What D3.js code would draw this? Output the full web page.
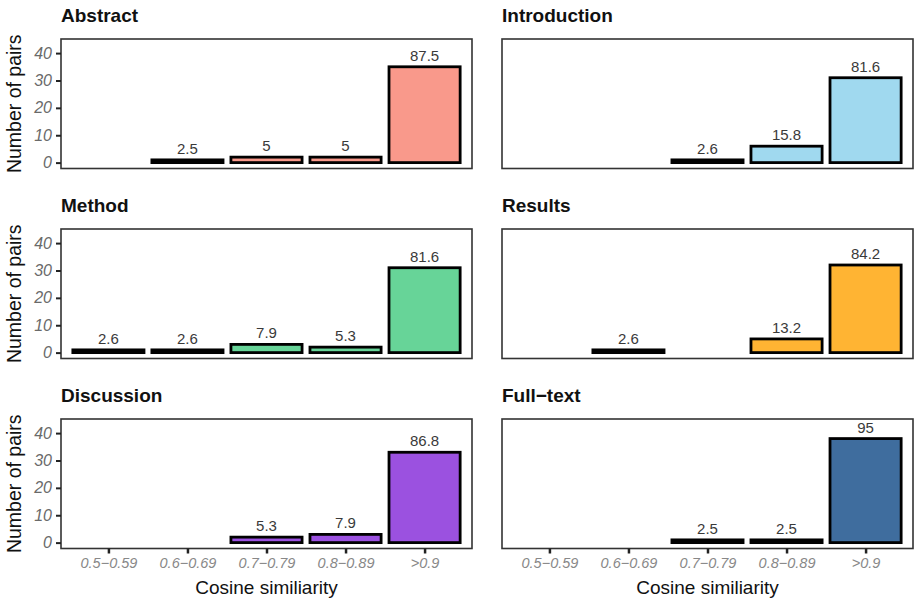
<!DOCTYPE html>
<html>
<head>
<meta charset="utf-8">
<script src="https://cdn.jsdelivr.net/npm/d3@7"></script>
<style>
  html, body { margin: 0; padding: 0; background: #fff; }
  svg { display: block; font-family: "Liberation Sans", Arial, sans-serif; }
</style>
</head>
<body>
<svg id="chart" width="916" height="599"></svg>
<script>
// ---- data ----
const categories = ["0.5\u22120.59", "0.6\u22120.69", "0.7\u22120.79", "0.8\u22120.89", ">0.9"];
const panelTitles = ["Abstract", "Introduction", "Method", "Results", "Discussion", "Full\u2212text"];
const panelColors = ["#F9998B", "#A0D9EF", "#67D498", "#FFB433", "#9B51E0", "#3F6D9E"];

const abstractCounts   = [0, 1, 2, 2, 35];
const abstractPct      = [null, 2.5, 5, 5, 87.5];
const introCounts      = [0, 0, 1, 6, 31];
const introPct         = [null, null, 2.6, 15.8, 81.6];
const methodCounts     = [1, 1, 3, 2, 31];
const methodPct        = [2.6, 2.6, 7.9, 5.3, 81.6];
const resultsCounts    = [0, 1, 0, 5, 32];
const resultsPct       = [null, 2.6, null, 13.2, 84.2];
const discussionCounts = [0, 0, 2, 3, 33];
const discussionPct    = [null, null, 5.3, 7.9, 86.8];
const fulltextCounts   = [0, 0, 1, 1, 38];
const fulltextPct      = [null, null, 2.5, 2.5, 95];

const yTicks = [0, 10, 20, 30, 40];
const xTitle = "Cosine similiarity";
const yTitle = "Number of pairs";

const panelCounts = [abstractCounts, introCounts, methodCounts, resultsCounts, discussionCounts, fulltextCounts];
const panelPct = [abstractPct, introPct, methodPct, resultsPct, discussionPct, fulltextPct];

// ---- layout ----
const svg = d3.select("#chart");
const panelW = 411, panelH = 129.5;
const colX = [61, 502];
const rowY = [39, 229, 419];

const x = d3.scaleLinear().domain([0.4, 5.6]).range([0, panelW]);
const unit = x(1) - x(0);
const y = d3.scaleLinear().domain([-2.15, 45.15]).range([panelH, 0]);

panelTitles.forEach((title, p) => {
  const col = p % 2, row = Math.floor(p / 2);
  const g = svg.append("g").attr("transform", `translate(${colX[col]},${rowY[row]})`);

  // title
  g.append("text")
    .attr("x", 0).attr("y", -17)
    .attr("font-size", 19).attr("font-weight", "bold").attr("fill", "#111")
    .text(title);

  // bars
  const data = categories.map((c, i) => ({ c, i, n: panelCounts[p][i], pct: panelPct[p][i] }))
    .filter(d => d.n > 0);

  g.selectAll("rect.bar").data(data).enter().append("rect")
    .attr("class", "bar")
    .attr("x", d => x(d.i + 1) - 0.45 * unit)
    .attr("width", 0.9 * unit)
    .attr("y", d => y(d.n))
    .attr("height", d => y(0) - y(d.n))
    .attr("fill", panelColors[p])
    .attr("stroke", "#000")
    .attr("stroke-width", 2.8);

  g.selectAll("text.val").data(data).enter().append("text")
    .attr("class", "val")
    .attr("x", d => x(d.i + 1))
    .attr("y", d => y(d.n) - 6)
    .attr("text-anchor", "middle")
    .attr("font-size", 15).attr("fill", "#3a3a3a")
    .text(d => d.pct);

  // panel border
  g.append("rect")
    .attr("x", 0).attr("y", 0).attr("width", panelW).attr("height", panelH)
    .attr("fill", "none").attr("stroke", "#333").attr("stroke-width", 1.6);

  // y axis on left column
  if (col === 0) {
    const ya = g.append("g").call(d3.axisLeft(y).tickValues(yTicks).tickSize(5).tickPadding(4));
    ya.select(".domain").remove();
    ya.selectAll("line").attr("stroke", "#222").attr("stroke-width", 2);
    ya.selectAll("text").attr("font-size", 16).attr("font-style", "italic")
      .attr("fill", "#6a6a6a").attr("font-family", "Liberation Sans, Arial, sans-serif");

    g.append("text")
      .attr("transform", `translate(${-40},${panelH / 2}) rotate(-90)`)
      .attr("text-anchor", "middle")
      .attr("font-size", 19.5).attr("fill", "#111")
      .text(yTitle);
  }

  // x axis on bottom row
  if (row === 2) {
    const xa = g.append("g").attr("transform", `translate(0,${panelH})`)
      .call(d3.axisBottom(x).tickValues([1, 2, 3, 4, 5]).tickFormat(v => categories[v - 1]).tickSize(5).tickPadding(4));
    xa.select(".domain").remove();
    xa.selectAll("line").attr("stroke", "#222").attr("stroke-width", 2.5);
    xa.selectAll("text").attr("font-size", 14.5).attr("font-style", "italic")
      .attr("fill", "#888").attr("font-family", "Liberation Sans, Arial, sans-serif");

    g.append("text")
      .attr("x", panelW / 2).attr("y", panelH + 45)
      .attr("text-anchor", "middle")
      .attr("font-size", 19).attr("fill", "#111")
      .text(xTitle);
  }
});
</script>
</body>
</html>
